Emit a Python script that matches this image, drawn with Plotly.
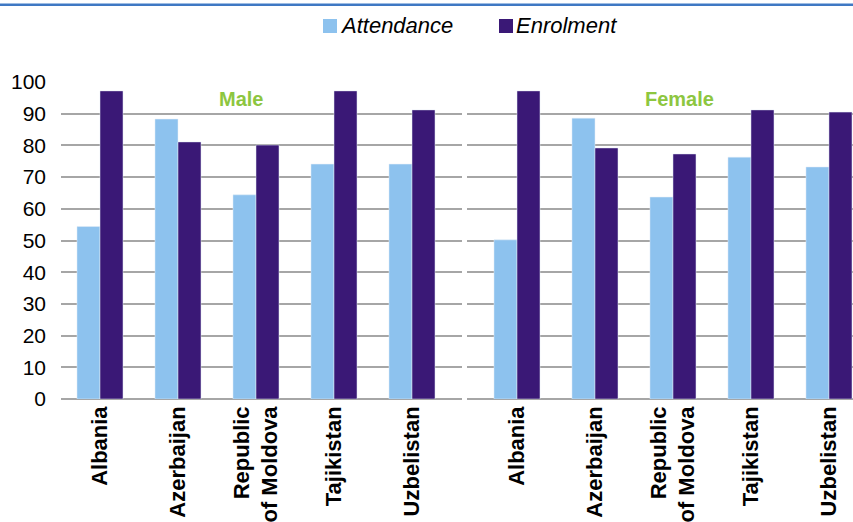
import plotly.graph_objects as go

# Country categories shared by both panels
countries = ["Albania", "Azerbaijan", "Republic<br>of Moldova", "Tajikistan", "Uzbelistan"]

# Male rates (%)
male_attendance = [54.4, 88.3, 64.4, 74.1, 74.1]
male_enrolment = [97.2, 81.1, 80.1, 97.2, 91.2]

# Female rates (%)
female_attendance = [50.2, 88.6, 63.7, 76.3, 73.2]
female_enrolment = [97.2, 79.2, 77.3, 91.2, 90.5]

y_ticks = [0, 10, 20, 30, 40, 50, 60, 70, 80, 90, 100]

ATT_COLOR = "#8DC2EE"
ENR_COLOR = "#3A1876"
GRID_COLOR = "#A6A6A6"
TITLE_GREEN = "#8DC63F"
FONT = "Liberation Sans, Arial, sans-serif"

W, H = 853, 522


def px(x):
    return x / W


def py(y):
    return 1 - y / H


fig = go.Figure()

fig.add_trace(go.Bar(x=countries, y=male_attendance, name="Attendance",
                     marker_color=ATT_COLOR, xaxis="x", yaxis="y", showlegend=False))
fig.add_trace(go.Bar(x=countries, y=male_enrolment, name="Enrolment",
                     marker_color=ENR_COLOR, xaxis="x", yaxis="y", showlegend=False))
fig.add_trace(go.Bar(x=countries, y=female_attendance, name="Attendance",
                     marker_color=ATT_COLOR, xaxis="x2", yaxis="y2", showlegend=False))
fig.add_trace(go.Bar(x=countries, y=female_enrolment, name="Enrolment",
                     marker_color=ENR_COLOR, xaxis="x2", yaxis="y2", showlegend=False))

y_domain = [py(399), py(82)]
xtick_font = dict(family=FONT, size=22, color="black", weight="bold")

common_y = dict(range=[0, 100], tickvals=y_ticks, showgrid=True, gridcolor=GRID_COLOR,
                gridwidth=1.5, zeroline=True, zerolinecolor=GRID_COLOR, zerolinewidth=1.5,
                showline=False, ticks="", domain=y_domain, fixedrange=True,
                automargin=False)

common_x = dict(type="category", tickangle=-90, tickfont=xtick_font, showgrid=False,
                showline=False, ticks="", automargin=False, ticklabelstandoff=2)

fig.update_layout(
    width=W, height=H,
    margin=dict(l=0, r=0, t=0, b=0, autoexpand=False),
    paper_bgcolor="white", plot_bgcolor="white",
    barmode="group", bargap=0.41, bargroupgap=0,
    font=dict(family=FONT, color="black"),
    xaxis=dict(**common_x, domain=[px(61), px(462)], range=[-0.5, 4.641], anchor="y"),
    xaxis2=dict(**common_x, domain=[px(467), 1.0], range=[-0.641, 4.308], anchor="y2"),
    yaxis=dict(**common_y, anchor="x", showticklabels=True,
               tickfont=dict(family=FONT, size=21, color="black"), ticklabelstandoff=14),
    yaxis2=dict(**common_y, anchor="x2", showticklabels=False),
)

# Blue rule across the top
fig.add_shape(type="line", xref="paper", yref="paper", x0=0, x1=1, y0=py(3.5), y1=py(3.5),
              line=dict(color="#9DBCE3", width=1))
fig.add_shape(type="line", xref="paper", yref="paper", x0=0, x1=1, y0=py(5), y1=py(5),
              line=dict(color="#3F78C3", width=2))

# Legend
legend_items = [("Attendance", ATT_COLOR, 323), ("Enrolment", ENR_COLOR, 499)]
for label, color, x0 in legend_items:
    fig.add_shape(type="rect", xref="paper", yref="paper",
                  x0=px(x0), x1=px(x0 + 14), y0=py(33), y1=py(19),
                  fillcolor=color, line=dict(width=0))
    fig.add_annotation(text=label, xref="paper", yref="paper", x=px(x0 + 15), y=py(26),
                       xanchor="left", yanchor="middle", showarrow=False,
                       font=dict(family=FONT, size=22, color="black", style="italic"))

# Panel titles
for label, xc in [("Male", 241), ("Female", 679)]:
    fig.add_annotation(text=label, xref="paper", yref="paper", x=px(xc), y=py(99),
                       xanchor="center", yanchor="middle", showarrow=False,
                       font=dict(family=FONT, size=20, color=TITLE_GREEN, weight="bold"))

fig.write_html("out.html")
